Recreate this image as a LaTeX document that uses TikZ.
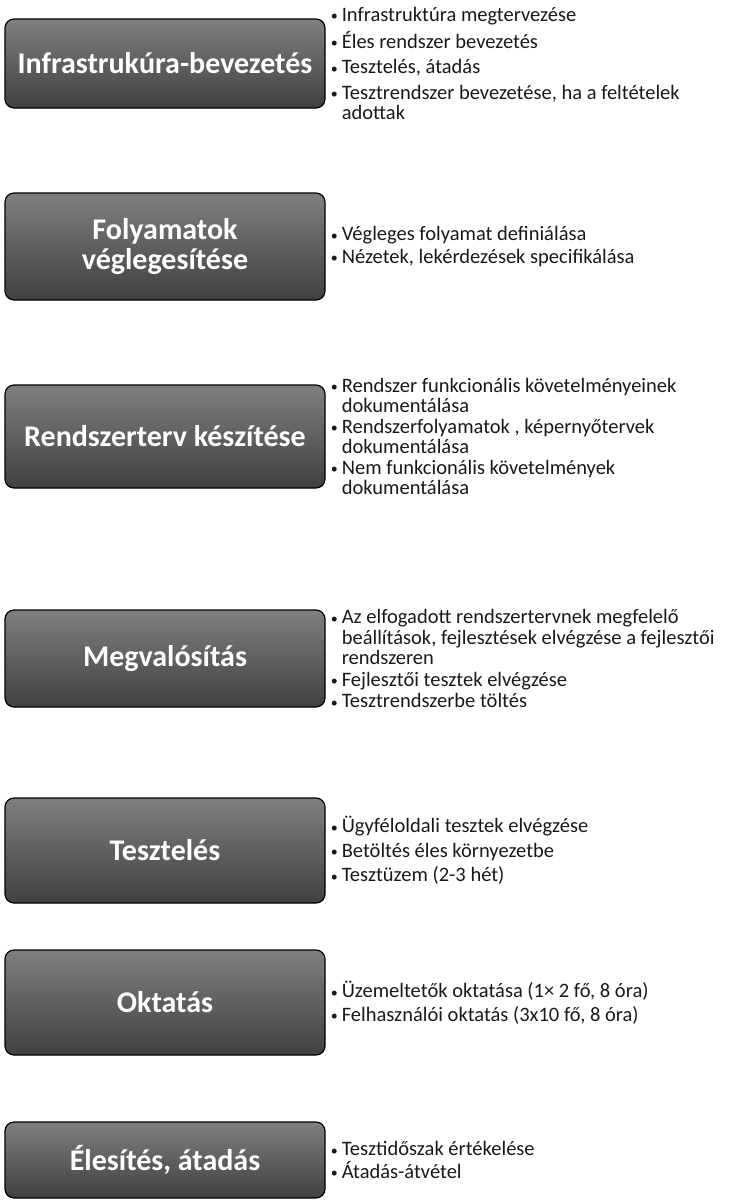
\documentclass[tikz,border=0pt]{standalone}
\usepackage{fontspec}
\setmainfont{Carlito}
\usetikzlibrary{positioning}
\newcommand{\bl}{\makebox[11pt][l]{\raisebox{0.5pt}{\fontsize{14}{14}\selectfont •}}}
\newcommand{\cont}{\hspace*{11pt}}
\tikzset{
  phase/.style={draw=black, line width=1.2pt, rounded corners=9pt,
    top color=black!50, bottom color=black!75, text=white,
    font=\fontsize{30}{30}\selectfont\bfseries, align=center,
    minimum width=320pt, inner sep=0pt},
  items/.style={right=5pt of #1, align=left, text=black!90,
    font=\fontsize{20.5}{20.5}\selectfont, inner sep=0pt}
}
\begin{document}
\begin{tikzpicture}[x=1pt,y=-1pt]
  \useasboundingbox (0,0) rectangle (738,1200);

  % Phases
  \foreach \n/\y/\h/\t in {infra/63.5/89/Infrastrukúra-bevezetés,
      folyamat/246.5/107/{Folyamatok\\véglegesítése},
      rterv/436.5/103/Rendszerterv készítése,
      megval/658.5/97/Megvalósítás,
      teszt/850.5/105/Tesztelés,
      oktat/1002.5/105/Oktatás,
      eles/1160/76/{Élesítés, átadás}}
    \node[phase, minimum height=\h pt] (\n) at (165,\y) {\t};

  % Tasks
  \node[items=infra] (infraL) {\bl Infrastruktúra megtervezése\\[5pt]
    \bl Éles rendszer bevezetés\\[5pt]
    \bl Tesztelés, átadás\\[5pt]
    \bl Tesztrendszer bevezetése, ha a feltételek\\
    \cont adottak};
  \node[items=folyamat] (folyamatL) {\bl Végleges folyamat definiálása\\[2pt]
    \bl Nézetek, lekérdezések specifikálása};
  \node[items=rterv] (rtervL) {\bl Rendszer funkcionális követelményeinek\\
    \cont dokumentálása\\
    \bl Rendszerfolyamatok , képernyőtervek\\
    \cont dokumentálása\\
    \bl Nem funkcionális követelmények\\
    \cont dokumentálása};
  \node[items=megval] (megvalL) {\bl Az elfogadott rendszertervnek megfelelő\\
    \cont beállítások, fejlesztések elvégzése a fejlesztői\\
    \cont rendszeren\\[1pt]
    \bl Fejlesztői tesztek elvégzése\\[1pt]
    \bl Tesztrendszerbe töltés};
  \node[items=teszt] (tesztL) {\bl Ügyféloldali tesztek elvégzése\\[4pt]
    \bl Betöltés éles környezetbe\\[4pt]
    \bl Tesztüzem (2-3 hét)};
  \node[items=oktat] (oktatL) {\bl Üzemeltetők oktatása (1× 2  fő, 8 óra)\\[3pt]
    \bl Felhasználói oktatás (3x10 fő, 8 óra)};
  \node[items=eles] (elesL) {\bl Tesztidőszak értékelése\\[2pt]
    \bl Átadás-átvétel};
\end{tikzpicture}
\end{document}
